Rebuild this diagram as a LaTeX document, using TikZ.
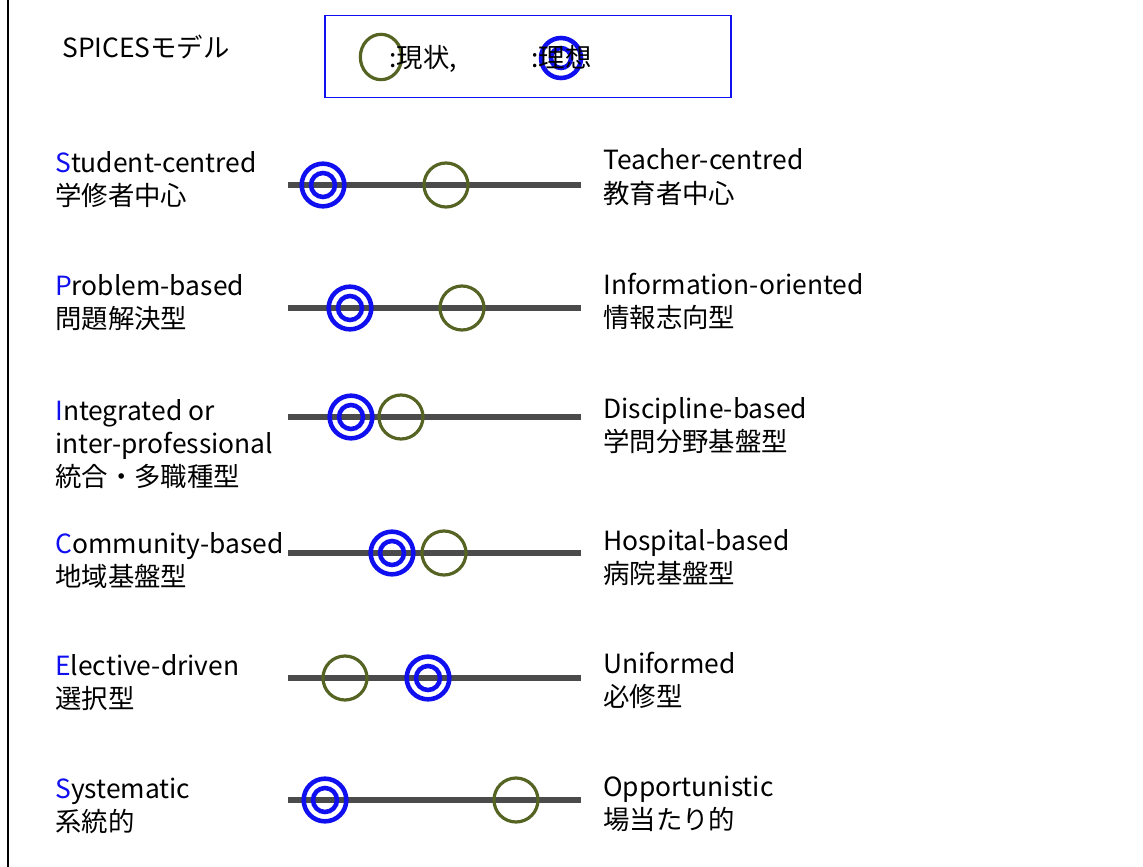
\documentclass[tikz,border=0pt]{standalone}
\usepackage{fontspec}
\setmainfont{Noto Sans CJK JP}
\usetikzlibrary{positioning, shapes.geometric}

\definecolor{idealblue}{RGB}{15,15,240}
\definecolor{nowgreen}{RGB}{85,100,35}
\definecolor{scalegray}{RGB}{75,75,75}

\tikzset{
  lbltext/.style={anchor=base west, align=left, inner sep=0pt, font=\fontsize{19.8}{24.75}\selectfont},
  scaleline/.style={draw=scalegray, line width=3.8pt},
  nowcirc/.style={circle, draw=nowgreen, line width=2.4pt, minimum size=33pt, inner sep=0pt},
  idealout/.style={circle, draw=idealblue, line width=3.4pt, minimum size=32pt, inner sep=0pt},
  idealin/.style={circle, draw=idealblue, line width=3.4pt, minimum size=18pt, inner sep=0pt}
}
\newcommand{\ini}[1]{\textcolor{idealblue}{#1}}

\begin{document}
\begin{tikzpicture}[x=0.75pt, y=-0.75pt]
  \useasboundingbox (0,0) rectangle (1143,867);
  % frame on the left
  \draw[line width=1.8pt] (8,0) coordinate (ftop) -- (8,867) coordinate (fbot);

  % --- title and legend ---
  \node[lbltext] (title) at (62,58) {SPICESモデル};
  \node[draw=idealblue, line width=0.9pt, minimum width=304.5pt, minimum height=62pt, inner sep=0pt] (legend) at (528,56.5) {};
  \node[nowcirc, ellipse, minimum width=31pt, minimum height=34pt] (lgnow) at (381,57) {};
  \node[lbltext] (lgnowtxt) at (389,68) {:現状,};
  \node[idealout, minimum size=30pt] (lgideal) at (561,58) {};
  \node[idealin, minimum size=15pt] at (lgideal) {};
  \node[lbltext] (lgidealtxt) at (531,68) {:理想};

  % --- scales: row/y/ideal x/current x ---
  \foreach \n/\y/\bx/\gx in {1/185/323/446, 2/308/350/462, 3/417/351/401,
                             4/553/392/444, 5/678/428/345, 6/800/325/516} {
    \coordinate (sl\n) at (288,\y);
    \coordinate (sr\n) at (581,\y);
    \draw[scaleline] (sl\n) -- (sr\n);
    \node[nowcirc] (now\n) at (\gx,\y) {};
    \node[idealout] (ideal\n) at (\bx,\y) {};
    \node[idealin] at (ideal\n) {};
  }

  % --- left labels (anchored on the last line) ---
  \node[lbltext] (s1) at (55,205) {\ini{S}tudent-centred\\学修者中心};
  \node[lbltext] (p1) at (55,328) {\ini{P}roblem-based\\問題解決型};
  \node[lbltext] (i1) at (55,486) {\ini{I}ntegrated or\\inter-professional\\統合・多職種型};
  \node[lbltext] (c1) at (55,586) {\ini{C}ommunity-based\\地域基盤型};
  \node[lbltext] (e1) at (55,708) {\ini{E}lective-driven\\選択型};
  \node[lbltext] (s2) at (55,831) {\ini{S}ystematic\\系統的};

  % --- right labels ---
  \node[lbltext] (t1) at (603,203) {Teacher-centred\\教育者中心};
  \node[lbltext] (t2) at (603,327) {Information-oriented\\情報志向型};
  \node[lbltext] (t3) at (603,451) {Discipline-based\\学問分野基盤型};
  \node[lbltext] (t4) at (603,583) {Hospital-based\\病院基盤型};
  \node[lbltext] (t5) at (603,706) {Uniformed\\必修型};
  \node[lbltext] (t6) at (603,829) {Opportunistic\\場当たり的};
\end{tikzpicture}
\end{document}
